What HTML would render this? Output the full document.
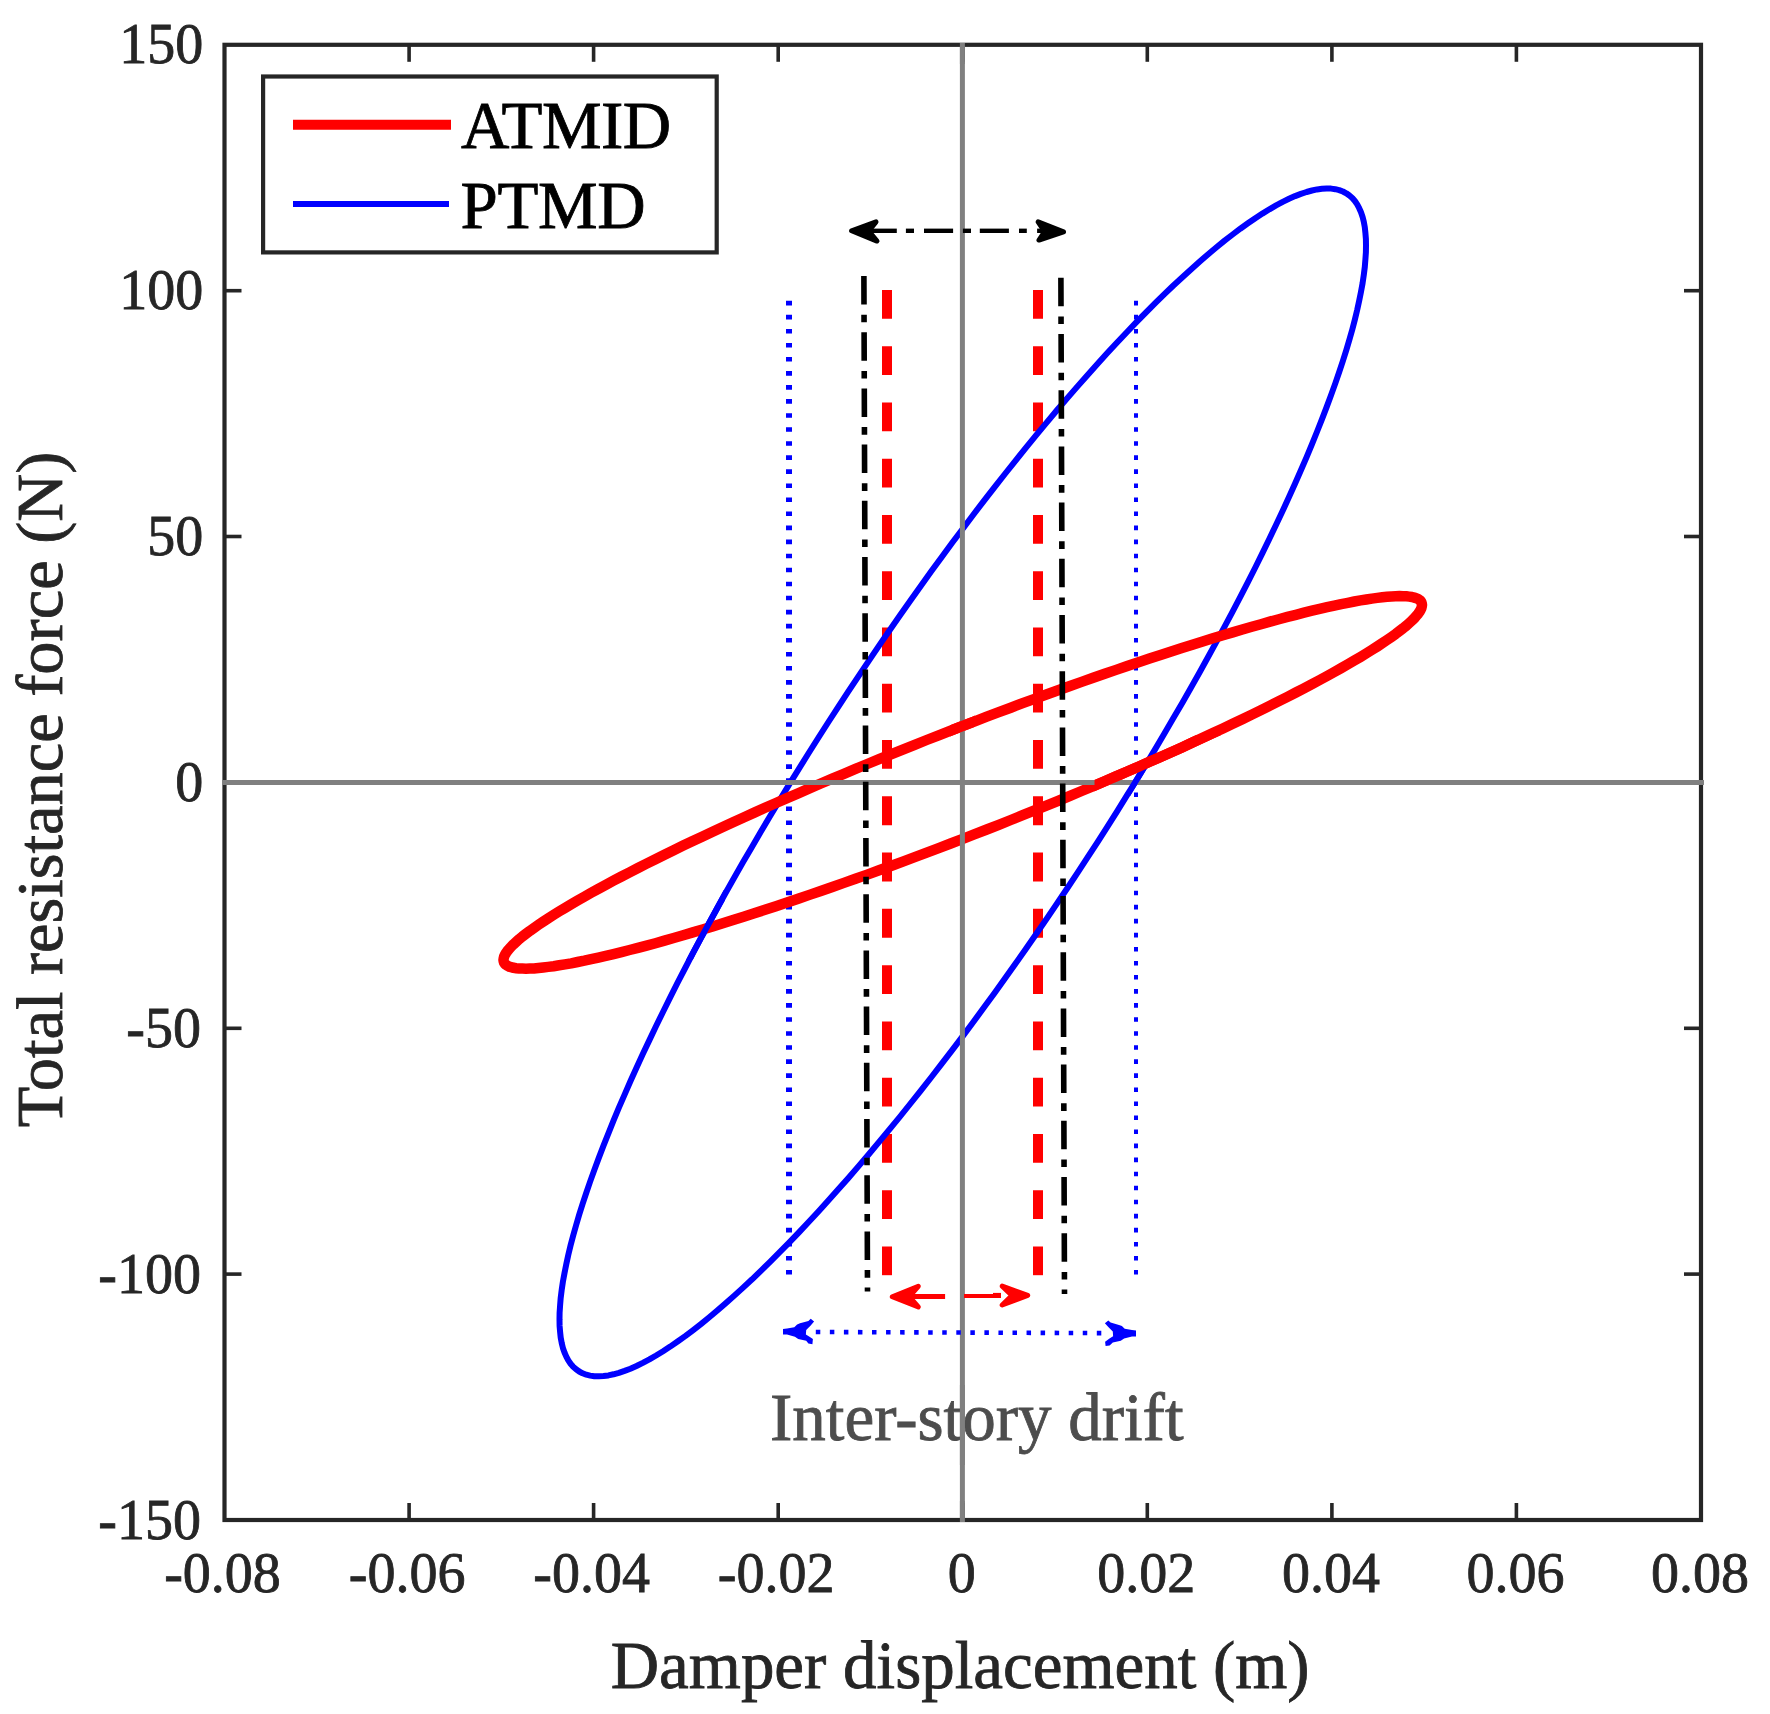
<!DOCTYPE html>
<html lang="en"><head><meta charset="utf-8"><title>Hysteresis loops</title>
<style>html,body{margin:0;padding:0;background:#fff}svg{display:block}text{font-family:"Liberation Serif","Times New Roman",serif}</style>
</head><body>
<svg width="1770" height="1714" viewBox="0 0 1770 1714">
<rect width="1770" height="1714" fill="#fff"/>
<defs><clipPath id="rc"><rect x="1094.5" y="735" width="220" height="65"/><rect x="950" y="700" width="25" height="50"/></clipPath>
<clipPath id="bc1"><rect x="675" y="890" width="50" height="70"/></clipPath><clipPath id="bc2"><rect x="1130" y="768" width="40" height="28"/></clipPath></defs>
<g fill="none">
<line x1="789" y1="300.8" x2="789" y2="1275.4" stroke="#0000ff" stroke-width="6" stroke-dasharray="4.6 9.446"/>
<line x1="1136" y1="300.8" x2="1136" y2="1275.4" stroke="#0000ff" stroke-width="4" stroke-dasharray="4.6 9.446"/>
<line x1="887" y1="289.9" x2="887" y2="1275.2" stroke="#ff0000" stroke-width="10" stroke-dasharray="28.8 27.47"/>
<line x1="1038" y1="289.9" x2="1038" y2="1275.2" stroke="#ff0000" stroke-width="10" stroke-dasharray="28.8 27.47"/>
</g>
<path d="M962.8,528.7 L973.3,514.7 L983.9,500.9 L994.4,487.3 L1004.9,474.0 L1015.4,460.8 L1025.8,447.8 L1036.2,435.1 L1046.6,422.6 L1056.9,410.3 L1067.1,398.4 L1077.3,386.6 L1087.4,375.2 L1097.4,364.0 L1107.3,353.1 L1117.1,342.5 L1126.8,332.2 L1136.4,322.2 L1145.8,312.6 L1155.2,303.2 L1164.4,294.2 L1173.4,285.5 L1182.4,277.2 L1191.2,269.2 L1199.8,261.5 L1208.2,254.2 L1216.5,247.3 L1224.6,240.7 L1232.6,234.5 L1240.3,228.7 L1247.9,223.3 L1255.3,218.2 L1262.4,213.6 L1269.4,209.3 L1276.1,205.4 L1282.7,201.9 L1289.0,198.8 L1295.1,196.1 L1300.9,193.9 L1306.6,192.0 L1312.0,190.5 L1317.1,189.4 L1322.0,188.8 L1326.7,188.5 L1331.1,188.6 L1335.3,189.2 L1339.2,190.1 L1342.9,191.5 L1346.3,193.3 L1349.4,195.5 L1352.3,198.0 L1354.9,201.0 L1357.2,204.4 L1359.2,208.2 L1361.0,212.3 L1362.6,216.9 L1363.8,221.8 L1364.8,227.2 L1365.4,232.9 L1365.9,238.9 L1366.0,245.4 L1365.9,252.2 L1365.4,259.4 L1364.8,267.0 L1363.8,274.9 L1362.6,283.1 L1361.0,291.7 L1359.2,300.6 L1357.2,309.9 L1354.9,319.5 L1352.3,329.4 L1349.4,339.6 L1346.3,350.1 L1342.9,360.9 L1339.2,372.0 L1335.3,383.4 L1331.1,395.0 L1326.7,406.9 L1322.0,419.1 L1317.1,431.5 L1312.0,444.2 L1306.6,457.1 L1300.9,470.2 L1295.1,483.5 L1289.0,497.1 L1282.7,510.8 L1276.1,524.7 L1269.4,538.8 L1262.4,553.1 L1255.3,567.5 L1247.9,582.1 L1240.3,596.8 L1232.6,611.6 L1224.6,626.6 L1216.5,641.6 L1208.2,656.8 L1199.8,672.0 L1191.2,687.3 L1182.4,702.7 L1173.4,718.1 L1164.4,733.6 L1155.2,749.1 L1145.8,764.7 L1136.4,780.2 L1126.8,795.7 L1117.1,811.3 L1107.3,826.8 L1097.4,842.3 L1087.4,857.7 L1077.3,873.1 L1067.1,888.5 L1056.9,903.7 L1046.6,918.9 L1036.2,934.0 L1025.8,949.0 L1015.4,963.8 L1004.9,978.6 L994.4,993.2 L983.9,1007.6 L973.3,1022.0 L962.8,1036.1 L952.2,1050.1 L941.6,1063.9 L931.1,1077.5 L920.6,1090.8 L910.1,1104.0 L899.7,1117.0 L889.3,1129.7 L878.9,1142.2 L868.6,1154.5 L858.4,1166.4 L848.2,1178.2 L838.1,1189.6 L828.1,1200.8 L818.2,1211.7 L808.4,1222.3 L798.7,1232.6 L789.1,1242.6 L779.7,1252.2 L770.3,1261.6 L761.1,1270.6 L752.1,1279.3 L743.1,1287.6 L734.3,1295.6 L725.7,1303.3 L717.3,1310.6 L709.0,1317.5 L700.9,1324.1 L692.9,1330.3 L685.2,1336.1 L677.6,1341.5 L670.2,1346.6 L663.1,1351.2 L656.1,1355.5 L649.4,1359.4 L642.8,1362.9 L636.5,1366.0 L630.4,1368.7 L624.6,1370.9 L618.9,1372.8 L613.5,1374.3 L608.4,1375.4 L603.5,1376.0 L598.8,1376.3 L594.4,1376.2 L590.2,1375.6 L586.3,1374.7 L582.6,1373.3 L579.2,1371.5 L576.1,1369.3 L573.2,1366.8 L570.6,1363.8 L568.3,1360.4 L566.3,1356.6 L564.5,1352.5 L562.9,1347.9 L561.7,1343.0 L560.7,1337.6 L560.1,1331.9 L559.6,1325.9 L559.5,1319.4 L559.6,1312.6 L560.1,1305.4 L560.7,1297.8 L561.7,1289.9 L562.9,1281.7 L564.5,1273.1 L566.3,1264.2 L568.3,1254.9 L570.6,1245.3 L573.2,1235.4 L576.1,1225.2 L579.2,1214.7 L582.6,1203.9 L586.3,1192.8 L590.2,1181.4 L594.4,1169.8 L598.8,1157.9 L603.5,1145.7 L608.4,1133.3 L613.5,1120.6 L618.9,1107.7 L624.6,1094.6 L630.4,1081.3 L636.5,1067.7 L642.8,1054.0 L649.4,1040.1 L656.1,1026.0 L663.1,1011.7 L670.2,997.3 L677.6,982.7 L685.2,968.0 L692.9,953.2 L700.9,938.2 L709.0,923.2 L717.3,908.0 L725.7,892.8 L734.3,877.5 L743.1,862.1 L752.1,846.7 L761.1,831.2 L770.3,815.7 L779.7,800.1 L789.1,784.6 L798.7,769.1 L808.4,753.5 L818.2,738.0 L828.1,722.5 L838.1,707.1 L848.2,691.7 L858.4,676.3 L868.6,661.1 L878.9,645.9 L889.3,630.8 L899.7,615.8 L910.1,601.0 L920.6,586.2 L931.1,571.6 L941.6,557.2 L952.2,542.8Z" fill="none" stroke="#0000ff" stroke-width="6" stroke-linejoin="round"/>
<path d="M962.8,725.9 L974.8,721.3 L986.8,716.7 L998.8,712.1 L1010.8,707.7 L1022.7,703.2 L1034.6,698.8 L1046.4,694.5 L1058.2,690.2 L1070.0,686.0 L1081.6,681.9 L1093.2,677.8 L1104.7,673.8 L1116.1,669.9 L1127.3,666.0 L1138.5,662.3 L1149.5,658.6 L1160.5,655.0 L1171.2,651.5 L1181.9,648.1 L1192.4,644.7 L1202.7,641.5 L1212.9,638.3 L1222.9,635.3 L1232.7,632.4 L1242.3,629.5 L1251.8,626.8 L1261.0,624.2 L1270.0,621.6 L1278.9,619.2 L1287.5,616.9 L1295.9,614.8 L1304.0,612.7 L1312.0,610.7 L1319.7,608.9 L1327.1,607.2 L1334.3,605.6 L1341.2,604.1 L1347.9,602.8 L1354.3,601.5 L1360.5,600.4 L1366.3,599.5 L1371.9,598.6 L1377.3,597.9 L1382.3,597.3 L1387.0,596.8 L1391.5,596.4 L1395.7,596.2 L1399.5,596.1 L1403.1,596.2 L1406.4,596.3 L1409.3,596.6 L1412.0,597.0 L1414.3,597.6 L1416.3,598.2 L1418.1,599.0 L1419.5,600.0 L1420.6,601.0 L1421.4,602.2 L1421.8,603.5 L1422.0,604.9 L1421.8,606.4 L1421.4,608.1 L1420.6,609.9 L1419.5,611.8 L1418.1,613.8 L1416.3,615.9 L1414.3,618.2 L1412.0,620.5 L1409.3,623.0 L1406.4,625.6 L1403.1,628.3 L1399.5,631.0 L1395.7,633.9 L1391.5,636.9 L1387.0,640.0 L1382.3,643.2 L1377.3,646.5 L1371.9,649.9 L1366.3,653.4 L1360.5,656.9 L1354.3,660.6 L1347.9,664.3 L1341.2,668.1 L1334.3,672.0 L1327.1,676.0 L1319.7,680.0 L1312.0,684.1 L1304.0,688.3 L1295.9,692.5 L1287.5,696.8 L1278.9,701.2 L1270.0,705.6 L1261.0,710.1 L1251.8,714.6 L1242.3,719.2 L1232.7,723.8 L1222.9,728.4 L1212.9,733.1 L1202.7,737.8 L1192.4,742.6 L1181.9,747.4 L1171.2,752.2 L1160.5,757.0 L1149.5,761.8 L1138.5,766.7 L1127.3,771.5 L1116.1,776.4 L1104.7,781.3 L1093.2,786.2 L1081.6,791.0 L1070.0,795.9 L1058.2,800.8 L1046.4,805.6 L1034.6,810.4 L1022.7,815.2 L1010.8,820.0 L998.8,824.8 L986.8,829.5 L974.8,834.2 L962.8,838.9 L950.7,843.5 L938.7,848.1 L926.7,852.7 L914.7,857.1 L902.8,861.6 L890.9,866.0 L879.1,870.3 L867.3,874.6 L855.5,878.8 L843.9,882.9 L832.3,887.0 L820.8,891.0 L809.4,894.9 L798.2,898.8 L787.0,902.5 L776.0,906.2 L765.0,909.8 L754.3,913.3 L743.6,916.7 L733.1,920.1 L722.8,923.3 L712.6,926.5 L702.6,929.5 L692.8,932.4 L683.2,935.3 L673.7,938.0 L664.5,940.6 L655.5,943.2 L646.6,945.6 L638.0,947.9 L629.6,950.0 L621.5,952.1 L613.5,954.1 L605.8,955.9 L598.4,957.6 L591.2,959.2 L584.3,960.7 L577.6,962.0 L571.2,963.3 L565.0,964.4 L559.2,965.3 L553.6,966.2 L548.2,966.9 L543.2,967.5 L538.5,968.0 L534.0,968.4 L529.8,968.6 L526.0,968.7 L522.4,968.6 L519.1,968.5 L516.2,968.2 L513.5,967.8 L511.2,967.2 L509.2,966.6 L507.4,965.8 L506.0,964.8 L504.9,963.8 L504.1,962.6 L503.7,961.3 L503.5,959.9 L503.7,958.4 L504.1,956.7 L504.9,954.9 L506.0,953.0 L507.4,951.0 L509.2,948.9 L511.2,946.6 L513.5,944.3 L516.2,941.8 L519.1,939.2 L522.4,936.5 L526.0,933.8 L529.8,930.9 L534.0,927.9 L538.5,924.8 L543.2,921.6 L548.2,918.3 L553.6,914.9 L559.2,911.4 L565.0,907.9 L571.2,904.2 L577.6,900.5 L584.3,896.7 L591.2,892.8 L598.4,888.8 L605.8,884.8 L613.5,880.7 L621.5,876.5 L629.6,872.3 L638.0,868.0 L646.6,863.6 L655.5,859.2 L664.5,854.7 L673.7,850.2 L683.2,845.6 L692.8,841.0 L702.6,836.4 L712.6,831.7 L722.8,827.0 L733.1,822.2 L743.6,817.4 L754.3,812.6 L765.0,807.8 L776.0,803.0 L787.0,798.1 L798.2,793.3 L809.4,788.4 L820.8,783.5 L832.3,778.6 L843.9,773.8 L855.5,768.9 L867.3,764.0 L879.1,759.2 L890.9,754.4 L902.8,749.6 L914.7,744.8 L926.7,740.0 L938.7,735.3 L950.7,730.6Z" fill="none" stroke="#ff0000" stroke-width="10.5" stroke-linejoin="round"/>
<path d="M962.8,528.7 L973.3,514.7 L983.9,500.9 L994.4,487.3 L1004.9,474.0 L1015.4,460.8 L1025.8,447.8 L1036.2,435.1 L1046.6,422.6 L1056.9,410.3 L1067.1,398.4 L1077.3,386.6 L1087.4,375.2 L1097.4,364.0 L1107.3,353.1 L1117.1,342.5 L1126.8,332.2 L1136.4,322.2 L1145.8,312.6 L1155.2,303.2 L1164.4,294.2 L1173.4,285.5 L1182.4,277.2 L1191.2,269.2 L1199.8,261.5 L1208.2,254.2 L1216.5,247.3 L1224.6,240.7 L1232.6,234.5 L1240.3,228.7 L1247.9,223.3 L1255.3,218.2 L1262.4,213.6 L1269.4,209.3 L1276.1,205.4 L1282.7,201.9 L1289.0,198.8 L1295.1,196.1 L1300.9,193.9 L1306.6,192.0 L1312.0,190.5 L1317.1,189.4 L1322.0,188.8 L1326.7,188.5 L1331.1,188.6 L1335.3,189.2 L1339.2,190.1 L1342.9,191.5 L1346.3,193.3 L1349.4,195.5 L1352.3,198.0 L1354.9,201.0 L1357.2,204.4 L1359.2,208.2 L1361.0,212.3 L1362.6,216.9 L1363.8,221.8 L1364.8,227.2 L1365.4,232.9 L1365.9,238.9 L1366.0,245.4 L1365.9,252.2 L1365.4,259.4 L1364.8,267.0 L1363.8,274.9 L1362.6,283.1 L1361.0,291.7 L1359.2,300.6 L1357.2,309.9 L1354.9,319.5 L1352.3,329.4 L1349.4,339.6 L1346.3,350.1 L1342.9,360.9 L1339.2,372.0 L1335.3,383.4 L1331.1,395.0 L1326.7,406.9 L1322.0,419.1 L1317.1,431.5 L1312.0,444.2 L1306.6,457.1 L1300.9,470.2 L1295.1,483.5 L1289.0,497.1 L1282.7,510.8 L1276.1,524.7 L1269.4,538.8 L1262.4,553.1 L1255.3,567.5 L1247.9,582.1 L1240.3,596.8 L1232.6,611.6 L1224.6,626.6 L1216.5,641.6 L1208.2,656.8 L1199.8,672.0 L1191.2,687.3 L1182.4,702.7 L1173.4,718.1 L1164.4,733.6 L1155.2,749.1 L1145.8,764.7 L1136.4,780.2 L1126.8,795.7 L1117.1,811.3 L1107.3,826.8 L1097.4,842.3 L1087.4,857.7 L1077.3,873.1 L1067.1,888.5 L1056.9,903.7 L1046.6,918.9 L1036.2,934.0 L1025.8,949.0 L1015.4,963.8 L1004.9,978.6 L994.4,993.2 L983.9,1007.6 L973.3,1022.0 L962.8,1036.1 L952.2,1050.1 L941.6,1063.9 L931.1,1077.5 L920.6,1090.8 L910.1,1104.0 L899.7,1117.0 L889.3,1129.7 L878.9,1142.2 L868.6,1154.5 L858.4,1166.4 L848.2,1178.2 L838.1,1189.6 L828.1,1200.8 L818.2,1211.7 L808.4,1222.3 L798.7,1232.6 L789.1,1242.6 L779.7,1252.2 L770.3,1261.6 L761.1,1270.6 L752.1,1279.3 L743.1,1287.6 L734.3,1295.6 L725.7,1303.3 L717.3,1310.6 L709.0,1317.5 L700.9,1324.1 L692.9,1330.3 L685.2,1336.1 L677.6,1341.5 L670.2,1346.6 L663.1,1351.2 L656.1,1355.5 L649.4,1359.4 L642.8,1362.9 L636.5,1366.0 L630.4,1368.7 L624.6,1370.9 L618.9,1372.8 L613.5,1374.3 L608.4,1375.4 L603.5,1376.0 L598.8,1376.3 L594.4,1376.2 L590.2,1375.6 L586.3,1374.7 L582.6,1373.3 L579.2,1371.5 L576.1,1369.3 L573.2,1366.8 L570.6,1363.8 L568.3,1360.4 L566.3,1356.6 L564.5,1352.5 L562.9,1347.9 L561.7,1343.0 L560.7,1337.6 L560.1,1331.9 L559.6,1325.9 L559.5,1319.4 L559.6,1312.6 L560.1,1305.4 L560.7,1297.8 L561.7,1289.9 L562.9,1281.7 L564.5,1273.1 L566.3,1264.2 L568.3,1254.9 L570.6,1245.3 L573.2,1235.4 L576.1,1225.2 L579.2,1214.7 L582.6,1203.9 L586.3,1192.8 L590.2,1181.4 L594.4,1169.8 L598.8,1157.9 L603.5,1145.7 L608.4,1133.3 L613.5,1120.6 L618.9,1107.7 L624.6,1094.6 L630.4,1081.3 L636.5,1067.7 L642.8,1054.0 L649.4,1040.1 L656.1,1026.0 L663.1,1011.7 L670.2,997.3 L677.6,982.7 L685.2,968.0 L692.9,953.2 L700.9,938.2 L709.0,923.2 L717.3,908.0 L725.7,892.8 L734.3,877.5 L743.1,862.1 L752.1,846.7 L761.1,831.2 L770.3,815.7 L779.7,800.1 L789.1,784.6 L798.7,769.1 L808.4,753.5 L818.2,738.0 L828.1,722.5 L838.1,707.1 L848.2,691.7 L858.4,676.3 L868.6,661.1 L878.9,645.9 L889.3,630.8 L899.7,615.8 L910.1,601.0 L920.6,586.2 L931.1,571.6 L941.6,557.2 L952.2,542.8Z" fill="none" stroke="#0000ff" stroke-width="6" clip-path="url(#bc1)"/>
<line x1="222" y1="782.5" x2="1704" y2="782.5" stroke="#808080" stroke-width="5"/>
<line x1="962.4" y1="43" x2="962.4" y2="1522" stroke="#808080" stroke-width="5"/>
<path d="M962.8,528.7 L973.3,514.7 L983.9,500.9 L994.4,487.3 L1004.9,474.0 L1015.4,460.8 L1025.8,447.8 L1036.2,435.1 L1046.6,422.6 L1056.9,410.3 L1067.1,398.4 L1077.3,386.6 L1087.4,375.2 L1097.4,364.0 L1107.3,353.1 L1117.1,342.5 L1126.8,332.2 L1136.4,322.2 L1145.8,312.6 L1155.2,303.2 L1164.4,294.2 L1173.4,285.5 L1182.4,277.2 L1191.2,269.2 L1199.8,261.5 L1208.2,254.2 L1216.5,247.3 L1224.6,240.7 L1232.6,234.5 L1240.3,228.7 L1247.9,223.3 L1255.3,218.2 L1262.4,213.6 L1269.4,209.3 L1276.1,205.4 L1282.7,201.9 L1289.0,198.8 L1295.1,196.1 L1300.9,193.9 L1306.6,192.0 L1312.0,190.5 L1317.1,189.4 L1322.0,188.8 L1326.7,188.5 L1331.1,188.6 L1335.3,189.2 L1339.2,190.1 L1342.9,191.5 L1346.3,193.3 L1349.4,195.5 L1352.3,198.0 L1354.9,201.0 L1357.2,204.4 L1359.2,208.2 L1361.0,212.3 L1362.6,216.9 L1363.8,221.8 L1364.8,227.2 L1365.4,232.9 L1365.9,238.9 L1366.0,245.4 L1365.9,252.2 L1365.4,259.4 L1364.8,267.0 L1363.8,274.9 L1362.6,283.1 L1361.0,291.7 L1359.2,300.6 L1357.2,309.9 L1354.9,319.5 L1352.3,329.4 L1349.4,339.6 L1346.3,350.1 L1342.9,360.9 L1339.2,372.0 L1335.3,383.4 L1331.1,395.0 L1326.7,406.9 L1322.0,419.1 L1317.1,431.5 L1312.0,444.2 L1306.6,457.1 L1300.9,470.2 L1295.1,483.5 L1289.0,497.1 L1282.7,510.8 L1276.1,524.7 L1269.4,538.8 L1262.4,553.1 L1255.3,567.5 L1247.9,582.1 L1240.3,596.8 L1232.6,611.6 L1224.6,626.6 L1216.5,641.6 L1208.2,656.8 L1199.8,672.0 L1191.2,687.3 L1182.4,702.7 L1173.4,718.1 L1164.4,733.6 L1155.2,749.1 L1145.8,764.7 L1136.4,780.2 L1126.8,795.7 L1117.1,811.3 L1107.3,826.8 L1097.4,842.3 L1087.4,857.7 L1077.3,873.1 L1067.1,888.5 L1056.9,903.7 L1046.6,918.9 L1036.2,934.0 L1025.8,949.0 L1015.4,963.8 L1004.9,978.6 L994.4,993.2 L983.9,1007.6 L973.3,1022.0 L962.8,1036.1 L952.2,1050.1 L941.6,1063.9 L931.1,1077.5 L920.6,1090.8 L910.1,1104.0 L899.7,1117.0 L889.3,1129.7 L878.9,1142.2 L868.6,1154.5 L858.4,1166.4 L848.2,1178.2 L838.1,1189.6 L828.1,1200.8 L818.2,1211.7 L808.4,1222.3 L798.7,1232.6 L789.1,1242.6 L779.7,1252.2 L770.3,1261.6 L761.1,1270.6 L752.1,1279.3 L743.1,1287.6 L734.3,1295.6 L725.7,1303.3 L717.3,1310.6 L709.0,1317.5 L700.9,1324.1 L692.9,1330.3 L685.2,1336.1 L677.6,1341.5 L670.2,1346.6 L663.1,1351.2 L656.1,1355.5 L649.4,1359.4 L642.8,1362.9 L636.5,1366.0 L630.4,1368.7 L624.6,1370.9 L618.9,1372.8 L613.5,1374.3 L608.4,1375.4 L603.5,1376.0 L598.8,1376.3 L594.4,1376.2 L590.2,1375.6 L586.3,1374.7 L582.6,1373.3 L579.2,1371.5 L576.1,1369.3 L573.2,1366.8 L570.6,1363.8 L568.3,1360.4 L566.3,1356.6 L564.5,1352.5 L562.9,1347.9 L561.7,1343.0 L560.7,1337.6 L560.1,1331.9 L559.6,1325.9 L559.5,1319.4 L559.6,1312.6 L560.1,1305.4 L560.7,1297.8 L561.7,1289.9 L562.9,1281.7 L564.5,1273.1 L566.3,1264.2 L568.3,1254.9 L570.6,1245.3 L573.2,1235.4 L576.1,1225.2 L579.2,1214.7 L582.6,1203.9 L586.3,1192.8 L590.2,1181.4 L594.4,1169.8 L598.8,1157.9 L603.5,1145.7 L608.4,1133.3 L613.5,1120.6 L618.9,1107.7 L624.6,1094.6 L630.4,1081.3 L636.5,1067.7 L642.8,1054.0 L649.4,1040.1 L656.1,1026.0 L663.1,1011.7 L670.2,997.3 L677.6,982.7 L685.2,968.0 L692.9,953.2 L700.9,938.2 L709.0,923.2 L717.3,908.0 L725.7,892.8 L734.3,877.5 L743.1,862.1 L752.1,846.7 L761.1,831.2 L770.3,815.7 L779.7,800.1 L789.1,784.6 L798.7,769.1 L808.4,753.5 L818.2,738.0 L828.1,722.5 L838.1,707.1 L848.2,691.7 L858.4,676.3 L868.6,661.1 L878.9,645.9 L889.3,630.8 L899.7,615.8 L910.1,601.0 L920.6,586.2 L931.1,571.6 L941.6,557.2 L952.2,542.8Z" fill="none" stroke="#0000ff" stroke-width="6" clip-path="url(#bc2)"/>
<path d="M962.8,725.9 L974.8,721.3 L986.8,716.7 L998.8,712.1 L1010.8,707.7 L1022.7,703.2 L1034.6,698.8 L1046.4,694.5 L1058.2,690.2 L1070.0,686.0 L1081.6,681.9 L1093.2,677.8 L1104.7,673.8 L1116.1,669.9 L1127.3,666.0 L1138.5,662.3 L1149.5,658.6 L1160.5,655.0 L1171.2,651.5 L1181.9,648.1 L1192.4,644.7 L1202.7,641.5 L1212.9,638.3 L1222.9,635.3 L1232.7,632.4 L1242.3,629.5 L1251.8,626.8 L1261.0,624.2 L1270.0,621.6 L1278.9,619.2 L1287.5,616.9 L1295.9,614.8 L1304.0,612.7 L1312.0,610.7 L1319.7,608.9 L1327.1,607.2 L1334.3,605.6 L1341.2,604.1 L1347.9,602.8 L1354.3,601.5 L1360.5,600.4 L1366.3,599.5 L1371.9,598.6 L1377.3,597.9 L1382.3,597.3 L1387.0,596.8 L1391.5,596.4 L1395.7,596.2 L1399.5,596.1 L1403.1,596.2 L1406.4,596.3 L1409.3,596.6 L1412.0,597.0 L1414.3,597.6 L1416.3,598.2 L1418.1,599.0 L1419.5,600.0 L1420.6,601.0 L1421.4,602.2 L1421.8,603.5 L1422.0,604.9 L1421.8,606.4 L1421.4,608.1 L1420.6,609.9 L1419.5,611.8 L1418.1,613.8 L1416.3,615.9 L1414.3,618.2 L1412.0,620.5 L1409.3,623.0 L1406.4,625.6 L1403.1,628.3 L1399.5,631.0 L1395.7,633.9 L1391.5,636.9 L1387.0,640.0 L1382.3,643.2 L1377.3,646.5 L1371.9,649.9 L1366.3,653.4 L1360.5,656.9 L1354.3,660.6 L1347.9,664.3 L1341.2,668.1 L1334.3,672.0 L1327.1,676.0 L1319.7,680.0 L1312.0,684.1 L1304.0,688.3 L1295.9,692.5 L1287.5,696.8 L1278.9,701.2 L1270.0,705.6 L1261.0,710.1 L1251.8,714.6 L1242.3,719.2 L1232.7,723.8 L1222.9,728.4 L1212.9,733.1 L1202.7,737.8 L1192.4,742.6 L1181.9,747.4 L1171.2,752.2 L1160.5,757.0 L1149.5,761.8 L1138.5,766.7 L1127.3,771.5 L1116.1,776.4 L1104.7,781.3 L1093.2,786.2 L1081.6,791.0 L1070.0,795.9 L1058.2,800.8 L1046.4,805.6 L1034.6,810.4 L1022.7,815.2 L1010.8,820.0 L998.8,824.8 L986.8,829.5 L974.8,834.2 L962.8,838.9 L950.7,843.5 L938.7,848.1 L926.7,852.7 L914.7,857.1 L902.8,861.6 L890.9,866.0 L879.1,870.3 L867.3,874.6 L855.5,878.8 L843.9,882.9 L832.3,887.0 L820.8,891.0 L809.4,894.9 L798.2,898.8 L787.0,902.5 L776.0,906.2 L765.0,909.8 L754.3,913.3 L743.6,916.7 L733.1,920.1 L722.8,923.3 L712.6,926.5 L702.6,929.5 L692.8,932.4 L683.2,935.3 L673.7,938.0 L664.5,940.6 L655.5,943.2 L646.6,945.6 L638.0,947.9 L629.6,950.0 L621.5,952.1 L613.5,954.1 L605.8,955.9 L598.4,957.6 L591.2,959.2 L584.3,960.7 L577.6,962.0 L571.2,963.3 L565.0,964.4 L559.2,965.3 L553.6,966.2 L548.2,966.9 L543.2,967.5 L538.5,968.0 L534.0,968.4 L529.8,968.6 L526.0,968.7 L522.4,968.6 L519.1,968.5 L516.2,968.2 L513.5,967.8 L511.2,967.2 L509.2,966.6 L507.4,965.8 L506.0,964.8 L504.9,963.8 L504.1,962.6 L503.7,961.3 L503.5,959.9 L503.7,958.4 L504.1,956.7 L504.9,954.9 L506.0,953.0 L507.4,951.0 L509.2,948.9 L511.2,946.6 L513.5,944.3 L516.2,941.8 L519.1,939.2 L522.4,936.5 L526.0,933.8 L529.8,930.9 L534.0,927.9 L538.5,924.8 L543.2,921.6 L548.2,918.3 L553.6,914.9 L559.2,911.4 L565.0,907.9 L571.2,904.2 L577.6,900.5 L584.3,896.7 L591.2,892.8 L598.4,888.8 L605.8,884.8 L613.5,880.7 L621.5,876.5 L629.6,872.3 L638.0,868.0 L646.6,863.6 L655.5,859.2 L664.5,854.7 L673.7,850.2 L683.2,845.6 L692.8,841.0 L702.6,836.4 L712.6,831.7 L722.8,827.0 L733.1,822.2 L743.6,817.4 L754.3,812.6 L765.0,807.8 L776.0,803.0 L787.0,798.1 L798.2,793.3 L809.4,788.4 L820.8,783.5 L832.3,778.6 L843.9,773.8 L855.5,768.9 L867.3,764.0 L879.1,759.2 L890.9,754.4 L902.8,749.6 L914.7,744.8 L926.7,740.0 L938.7,735.3 L950.7,730.6Z" fill="none" stroke="#ff0000" stroke-width="10.5" clip-path="url(#rc)"/>
<g fill="none">
<line x1="863.9" y1="276" x2="867.5" y2="1291.6" stroke="#000" stroke-width="5.6" stroke-dasharray="28.5 10.2 7.6 9.9"/>
<line x1="1060.9" y1="277.8" x2="1064.5" y2="1294" stroke="#000" stroke-width="5.6" stroke-dasharray="28.5 10.2 7.6 9.9"/>
</g>
<text x="770" y="1440" font-size="67" fill="#4d4d4d" stroke="#4d4d4d" stroke-width="0.8">Inter-story drift</text>
<line x1="962.4" y1="1385" x2="962.4" y2="1465" stroke="#808080" stroke-width="5"/>
<g stroke="#000" stroke-width="4.4" fill="none">
<line x1="872.0" y1="230.8" x2="896.8" y2="230.8"/>
<line x1="905.9" y1="230.8" x2="914.0" y2="230.8"/>
<line x1="924.0" y1="230.8" x2="953.1" y2="230.8"/>
<line x1="962.9" y1="230.8" x2="971.0" y2="230.8"/>
<line x1="979.8" y1="230.8" x2="1008.9" y2="230.8"/>
<line x1="1019.0" y1="230.8" x2="1026.8" y2="230.8"/>
<line x1="1037.1" y1="230.8" x2="1042.0" y2="230.8"/>
</g>
<g fill="#000" stroke="#000" stroke-width="5" stroke-linejoin="round">
<path d="M851.6,230.8 L876,221.9 L868.8,231 L877,241.1 Z"/>
<path d="M1063.5,231.9 L1038.1,221.9 L1044.6,231.5 L1039,240.1 Z"/>
</g>
<g stroke="#ff0000" fill="none">
<line x1="912" y1="1296.5" x2="945.1" y2="1296.5" stroke-width="5"/>
<line x1="964" y1="1296" x2="1001" y2="1296" stroke-width="4"/>
<line x1="993" y1="1295.4" x2="1001" y2="1295.4" stroke-width="5"/>
</g>
<g fill="#ff0000" stroke="#ff0000" stroke-width="5" stroke-linejoin="round">
<path d="M892.3,1296.7 L918.3,1286.3 L909.3,1296.7 L918.3,1307 Z"/>
<path d="M1027.7,1295.3 L1002.2,1286.2 L1011.9,1295.5 L1002.2,1305 Z"/>
</g>
<line x1="815.8" y1="1332.0" x2="1102" y2="1333.1" stroke="#0000ff" stroke-width="4.6" stroke-dasharray="4.5 9.55" fill="none"/>
<g fill="#0000ff">
<path d="M783,1329 L787,1328.4 L794.3,1327.2 L797.1,1324.4 L800,1323.3 L808.4,1321 L810.7,1318.8 L814.1,1321.6 L810.7,1325.5 L806.2,1330 L805.9,1334.6 L809.5,1336.8 L812.9,1339.1 L812.4,1344.2 L808.4,1343.6 L806.2,1340.8 L798.2,1339.1 L794.9,1336.8 L787,1334.6 L783,1334.6 Z"/>
<path d="M1136,1330.5 L1132,1330 L1124.7,1328.8 L1121.9,1326 L1119,1324.9 L1110.6,1322.6 L1108.3,1320.4 L1104.9,1323.2 L1108.3,1327.1 L1112.8,1331.6 L1113.1,1336.2 L1109.5,1338.4 L1105.1,1341.7 L1105.6,1346 L1109.6,1345.4 L1112.8,1342.4 L1120.8,1340.7 L1124.1,1338.4 L1132,1336.6 L1136,1336.6 Z"/>
</g>
<g stroke="#262626" fill="none">
<rect x="224.5" y="44.8" width="1476.5" height="1475.2" stroke-width="4.2"/>
<line x1="409.1" y1="44.8" x2="409.1" y2="61.8" stroke-width="3.6"/>
<line x1="409.1" y1="1520.0" x2="409.1" y2="1503.0" stroke-width="3.6"/>
<line x1="593.6" y1="44.8" x2="593.6" y2="61.8" stroke-width="3.6"/>
<line x1="593.6" y1="1520.0" x2="593.6" y2="1503.0" stroke-width="3.6"/>
<line x1="778.2" y1="44.8" x2="778.2" y2="61.8" stroke-width="3.6"/>
<line x1="778.2" y1="1520.0" x2="778.2" y2="1503.0" stroke-width="3.6"/>
<line x1="962.8" y1="44.8" x2="962.8" y2="61.8" stroke-width="3.6"/>
<line x1="962.8" y1="1520.0" x2="962.8" y2="1503.0" stroke-width="3.6"/>
<line x1="1147.3" y1="44.8" x2="1147.3" y2="61.8" stroke-width="3.6"/>
<line x1="1147.3" y1="1520.0" x2="1147.3" y2="1503.0" stroke-width="3.6"/>
<line x1="1331.9" y1="44.8" x2="1331.9" y2="61.8" stroke-width="3.6"/>
<line x1="1331.9" y1="1520.0" x2="1331.9" y2="1503.0" stroke-width="3.6"/>
<line x1="1516.4" y1="44.8" x2="1516.4" y2="61.8" stroke-width="3.6"/>
<line x1="1516.4" y1="1520.0" x2="1516.4" y2="1503.0" stroke-width="3.6"/>
<line x1="224.5" y1="290.7" x2="241.5" y2="290.7" stroke-width="3.6"/>
<line x1="1701.0" y1="290.7" x2="1684.0" y2="290.7" stroke-width="3.6"/>
<line x1="224.5" y1="536.5" x2="241.5" y2="536.5" stroke-width="3.6"/>
<line x1="1701.0" y1="536.5" x2="1684.0" y2="536.5" stroke-width="3.6"/>
<line x1="224.5" y1="782.4" x2="241.5" y2="782.4" stroke-width="3.6"/>
<line x1="1701.0" y1="782.4" x2="1684.0" y2="782.4" stroke-width="3.6"/>
<line x1="224.5" y1="1028.3" x2="241.5" y2="1028.3" stroke-width="3.6"/>
<line x1="1701.0" y1="1028.3" x2="1684.0" y2="1028.3" stroke-width="3.6"/>
<line x1="224.5" y1="1274.1" x2="241.5" y2="1274.1" stroke-width="3.6"/>
<line x1="1701.0" y1="1274.1" x2="1684.0" y2="1274.1" stroke-width="3.6"/>
</g>
<line x1="222" y1="782.5" x2="243" y2="782.5" stroke="#808080" stroke-width="5"/>
<line x1="1682" y1="782.5" x2="1704" y2="782.5" stroke="#808080" stroke-width="5"/>
<line x1="962.4" y1="43" x2="962.4" y2="64" stroke="#808080" stroke-width="5"/>
<line x1="962.4" y1="1501" x2="962.4" y2="1522" stroke="#808080" stroke-width="5"/>
<g font-size="56" fill="#262626" stroke="#262626" stroke-width="0.8">
<text x="222.5" y="1592" text-anchor="middle">-0.08</text>
<text x="407.1" y="1592" text-anchor="middle">-0.06</text>
<text x="591.6" y="1592" text-anchor="middle">-0.04</text>
<text x="776.2" y="1592" text-anchor="middle">-0.02</text>
<text x="961.8" y="1592" text-anchor="middle">0</text>
<text x="1146.3" y="1592" text-anchor="middle">0.02</text>
<text x="1330.9" y="1592" text-anchor="middle">0.04</text>
<text x="1515.4" y="1592" text-anchor="middle">0.06</text>
<text x="1700.0" y="1592" text-anchor="middle">0.08</text>
<text x="203.2" y="63.3" text-anchor="end">150</text>
<text x="203.2" y="309.2" text-anchor="end">100</text>
<text x="203.2" y="555.0" text-anchor="end">50</text>
<text x="203.2" y="800.9" text-anchor="end">0</text>
<text x="201.0" y="1046.8" text-anchor="end">-50</text>
<text x="201.0" y="1292.6" text-anchor="end">-100</text>
<text x="201.0" y="1538.5" text-anchor="end">-150</text>
</g>
<text x="960.2" y="1687.8" font-size="66.95" fill="#262626" stroke="#262626" stroke-width="0.8" text-anchor="middle">Damper displacement (m)</text>
<text transform="translate(62,789.4) rotate(-90)" font-size="66.4" fill="#262626" stroke="#262626" stroke-width="0.8" text-anchor="middle">Total resistance force (N)</text>
<rect x="263.1" y="76.5" width="453.6" height="175.9" fill="#fff" stroke="#262626" stroke-width="4.2"/>
<line x1="293" y1="124.8" x2="451" y2="124.8" stroke="#ff0000" stroke-width="10"/>
<line x1="293" y1="204" x2="449" y2="204" stroke="#0000ff" stroke-width="6"/>
<text x="461" y="148" font-size="67" fill="#000" stroke="#000" stroke-width="0.8" letter-spacing="-0.5">ATMID</text>
<text x="460.5" y="228" font-size="67" fill="#000" stroke="#000" stroke-width="0.8" letter-spacing="-0.3">PTMD</text>
</svg></body></html>
